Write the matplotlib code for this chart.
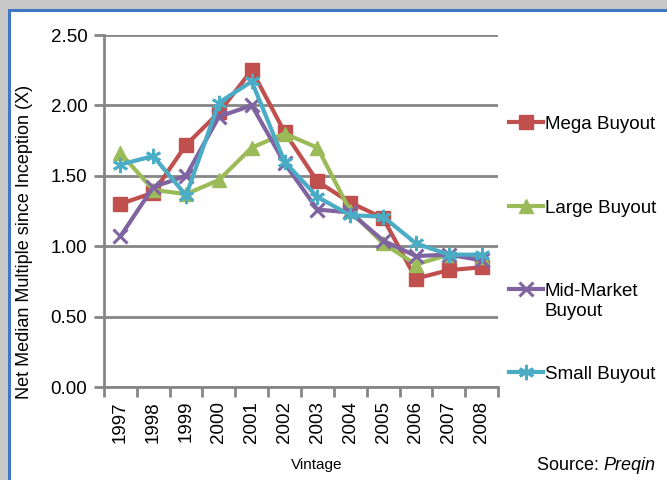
import matplotlib
matplotlib.use("Agg")
import matplotlib.pyplot as plt
from matplotlib.patches import Rectangle
import numpy as np

plt.rcParams['font.family'] = ['Liberation Sans', 'DejaVu Sans']

years = ["1997", "1998", "1999", "2000", "2001", "2002", "2003", "2004", "2005", "2006", "2007", "2008"]
mega = [1.30, 1.38, 1.72, 1.95, 2.25, 1.81, 1.46, 1.31, 1.20, 0.77, 0.83, 0.85]
large = [1.66, 1.40, 1.37, 1.47, 1.70, 1.80, 1.70, 1.25, 1.02, 0.87, 0.94, 0.92]
midmarket = [1.07, 1.42, 1.50, 1.92, 2.00, 1.59, 1.26, 1.24, 1.04, 0.93, 0.94, 0.90]
small = [1.58, 1.64, 1.36, 2.02, 2.17, 1.60, 1.35, 1.22, 1.21, 1.02, 0.94, 0.94]
series_names = ["Mega Buyout", "Large Buyout", "Mid-Market Buyout", "Small Buyout"]
yticks = [0.0, 0.5, 1.0, 1.5, 2.0, 2.5]

W, H = 667, 480
fig = plt.figure(figsize=(W / 100, H / 100), dpi=100)
fig.patch.set_facecolor('#c8c8c8')
# white panel with blue border
fig.patches.append(Rectangle((9 / W, -0.05), 1.1, (H - 10) / H + 0.05, transform=fig.transFigure,
                             facecolor='white', edgecolor='#3f77c0', linewidth=2.2, zorder=-5))

ax = fig.add_axes([104 / W, 93 / H, (498 - 104) / W, (387 - 35) / H])
ax.set_facecolor('none')

x = np.arange(len(years))
colors = ['#c0504d', '#9bbb59', '#8064a2', '#4bacc6']
markers = ['s', '^', 'x', (6, 2, 0)]
msizes = [9.5, 10, 10, 11]
mews = [1, 1, 2.2, 2.0]
data = [mega, large, midmarket, small]
handles = []
for d, c, m, ms, mew, name in zip(data, colors, markers, msizes, mews, series_names):
    h, = ax.plot(x, d, color=c, lw=3, marker=m, markersize=ms, markeredgewidth=mew,
                 markeredgecolor=c, markerfacecolor=c, label=name, zorder=3)
    handles.append(h)

ax.set_xlim(-0.5, len(years) - 0.5)
ax.set_ylim(0, 2.5)
ax.set_yticks(yticks)
ax.set_yticklabels([f"{v:.2f}" for v in yticks], fontsize=13.5)
ax.yaxis.grid(True, color='#868686', lw=2)
ax.set_axisbelow(True)
ax.tick_params(axis='y', length=7, width=2, color='#868686', pad=5)

ax.set_xticks(np.arange(-0.5, len(years), 1.0))
ax.set_xticklabels([])
ax.tick_params(axis='x', which='major', length=7, width=2, color='#868686')
ax.set_xticks(x, minor=True)
ax.set_xticklabels(years, minor=True, rotation=90, fontsize=13.5)
ax.tick_params(axis='x', which='minor', length=0, pad=10)

for s in ['top', 'right']:
    ax.spines[s].set_visible(False)
for s in ['left', 'bottom']:
    ax.spines[s].set_color('#868686')
    ax.spines[s].set_linewidth(2)

ax.set_ylabel("Net Median Multiple since Inception (X)", fontsize=13)
ax.yaxis.label.set(va='center', ha='center')
ax.yaxis.set_label_coords((25 - 104) / 394, (387 - 242) / 352)
ax.set_xlabel("Vintage", fontsize=11)
ax.xaxis.label.set(va='center', ha='center')
ax.xaxis.set_label_coords((317 - 104) / 394, (387 - 465) / 352)

# legend: one entry per legend so the rows sit where the reference puts them
legend_rows = [124, 208, 291, 374]
legend_labels = ["Mega Buyout", "Large Buyout", "Mid-Market", "Small Buyout"]
for h, lab, yc in zip(handles, legend_labels, legend_rows):
    lg = fig.legend(handles=[h], labels=[lab], loc='center left',
                    bbox_to_anchor=(509 / W, 1 - yc / H), frameon=False, fontsize=13.5,
                    handlelength=1.8, handletextpad=0.1, borderaxespad=0, borderpad=0)
fig.text(545 / W, 1 - 312 / H, "Buyout", fontsize=13.5, va='center', ha='left')

fig.text(537 / W, 1 - 466 / H, "Source: ", fontsize=13, va='center', ha='left')
fig.text(603 / W, 1 - 466 / H, "Preqin", fontsize=13, va='center', ha='left', style='italic')

fig.savefig("out.png", dpi=100, facecolor=fig.get_facecolor())
